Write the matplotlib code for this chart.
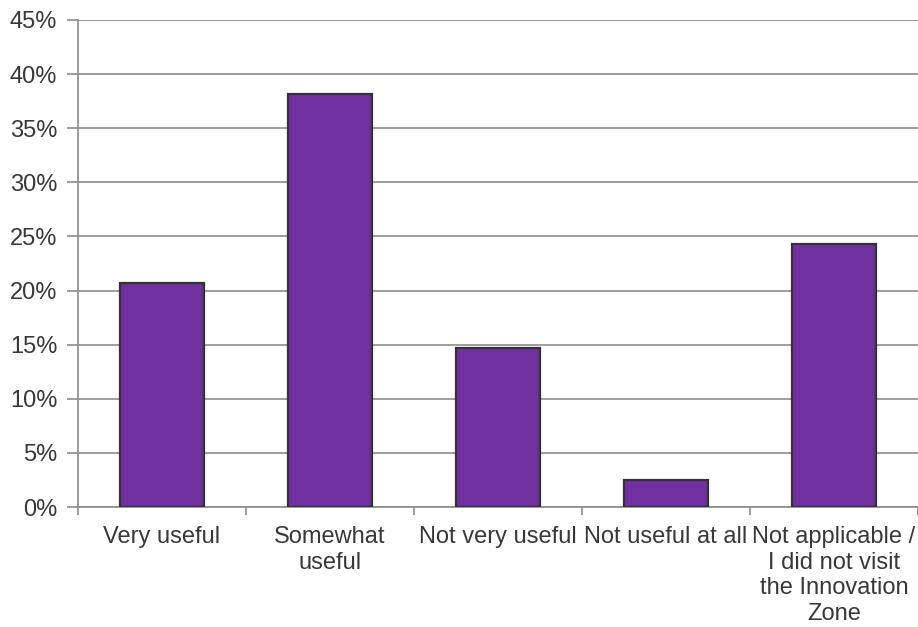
import matplotlib
matplotlib.use("Agg")
import matplotlib.pyplot as plt
from matplotlib.ticker import FixedLocator, MultipleLocator, PercentFormatter

categories = ["Very useful", "Somewhat\nuseful", "Not very useful", "Not useful at all",
              "Not applicable /\nI did not visit\nthe Innovation\nZone"]
values = [20.7, 38.2, 14.7, 2.5, 24.3]

plt.rcParams['font.family'] = ['Liberation Sans', 'DejaVu Sans']

fig = plt.figure(figsize=(9.18, 6.27), dpi=100)
ax = fig.add_axes([78/918, 120/627, 840/918, 487/627])

x = list(range(len(categories)))
ax.bar(x, values, width=0.505, color="#7030A0", edgecolor="#333333", linewidth=1.6, zorder=3)

ax.set_xlim(-0.5, len(categories) - 0.5)
ax.set_ylim(0, 45)
ax.yaxis.set_major_locator(MultipleLocator(5))
ax.yaxis.set_major_formatter(PercentFormatter(decimals=0))
ax.grid(axis="y", color="#8c8c8c", linewidth=1.2, zorder=0)

ax.set_xticks(x)
ax.set_xticklabels(categories, fontsize=17, color="#383838", linespacing=1.2)
ax.tick_params(axis="x", which="major", length=0, pad=14)
ax.xaxis.set_minor_locator(FixedLocator([i - 0.5 for i in range(len(categories) + 1)]))
ax.tick_params(axis="x", which="minor", length=6, width=1.2, color="#8c8c8c")
ax.tick_params(axis="y", length=8, width=1.2, color="#8c8c8c", labelsize=17, labelcolor="#383838", pad=7)

for s in ["top", "right"]:
    ax.spines[s].set_visible(False)
for s in ["left", "bottom"]:
    ax.spines[s].set_color("#8c8c8c")
    ax.spines[s].set_linewidth(1.2)

fig.savefig("out.png", dpi=100)
